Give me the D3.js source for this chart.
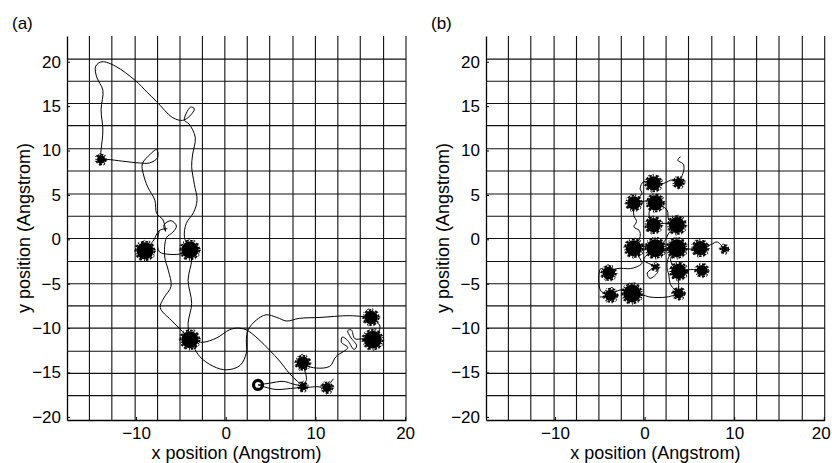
<!DOCTYPE html>
<html>
<head>
<meta charset="utf-8">
<script src="https://cdn.jsdelivr.net/npm/d3@7"></script>
<style>
  body { margin: 0; background: #fff; }
  svg { display: block; font-family: "Liberation Sans", Arial, Helvetica, sans-serif; }
  .tick text { font-size: 17px; fill: #000; }
  .lbl { font-size: 18px; fill: #000; }
</style>
</head>
<body>
<svg id="chart" width="832" height="463"></svg>
<script>
////////////////////////////////////////////////////////////////////////////////////
// Data (Angstrom)
var xTicks = [-10, 0, 10, 20];
var yTicks = [-20, -15, -10, -5, 0, 5, 10, 15, 20];
// lattice lines
var gridX = [-15.2, -12.7, -10.1, -7.6, -5.1, -2.6, -0.1, 2.4, 4.9, 7.5, 10.0, 12.5, 15.0, 17.6, 20.1];
var gridY = [20.3, 17.8, 15.3, 12.8, 10.2, 7.7, 5.1, 2.6, 0.1, -2.5, -5.0, -7.5, -10.0, -12.6, -15.1, -17.6];

// (a) trapping sites: x, y, radius of the dense scribble
var sitesA = [
  [-13.9, 9.0, 0.45], [-9.0, -1.3, 0.95], [-4.0, -1.2, 0.95], [-4.0, -11.3, 0.95],
  [8.6, -13.9, 0.7], [16.2, -8.8, 0.75], [16.4, -11.3, 1.0], [8.6, -16.6, 0.4], [11.3, -16.7, 0.5]
];
var ringsA = [[3.6, -16.4, 0.5]];
// (a) trajectory pieces
var trajA = [
  [[-14.0,9.0],[-13.9,10.1],[-13.7,12.3],[-13.9,14.6],[-13.7,16.8],[-14.4,18.3],[-14.5,19.5],[-13.8,20.0],[-12.3,19.5],[-10.1,17.9],[-8.8,16.6],[-7.7,15.5],[-5.9,13.7],[-4.8,13.4],[-4.0,13.9],[-3.5,14.7],[-3.9,14.9],[-4.4,14.2],[-4.6,13.4],[-4.1,13.0],[-3.4,11.5],[-3.7,9.5],[-3.8,8.2],[-3.5,6.2],[-3.2,4.4],[-3.6,3.0],[-4.4,1.8],[-4.6,0.2],[-4.0,-1.1]],
  [[-4.0,-1.1],[-3.8,-2.3],[-4.2,-4.6],[-3.8,-7.2],[-4.2,-9.5],[-4.0,-11.3]],
  [[-4.0,-11.3],[-5.0,-10.2],[-6.1,-9.1],[-7.3,-7.7],[-6.9,-6.6],[-6.1,-5.3],[-6.4,-3.5],[-6.8,-2.0],[-6.6,0.2],[-5.9,0.8],[-5.5,1.5],[-6.1,2.1],[-6.9,1.6],[-6.7,0.9],[-7.0,2.2],[-7.7,2.9],[-7.9,4.4],[-8.7,5.9],[-9.2,7.4],[-9.3,8.5],[-8.4,9.6],[-7.7,10.1],[-7.6,9.2],[-8.5,8.6],[-9.6,8.6],[-11.5,8.8],[-13.2,9.0],[-14.0,9.0]],
  [[-6.5,1.2],[-7.4,1.0],[-8.1,-0.2],[-9.0,-1.2]],
  [[-7.4,1.0],[-7.6,-0.2],[-7.4,-1.4],[-6.2,-1.7],[-4.9,-1.6],[-4.0,-1.1]],
  [[-4.0,-11.3],[-2.6,-11.6],[-1.0,-11.1],[0.4,-10.2],[1.3,-10.0],[2.3,-10.2],[3.6,-11.2],[4.9,-12.5],[6.0,-13.7],[7.1,-15.1],[8.0,-16.0],[8.6,-16.6]],
  [[-4.0,-11.3],[-2.9,-13.2],[-1.4,-14.3],[0.1,-14.7],[1.6,-14.2],[2.3,-12.8],[2.3,-11.3],[2.5,-10.2],[3.4,-9.1],[4.5,-8.5],[5.7,-8.8],[6.8,-9.2],[8.2,-8.9],[10.5,-8.8],[13.8,-8.6],[16.2,-8.8]],
  [[16.2,-8.8],[17.2,-9.8],[16.4,-11.3],[15.3,-11.2],[14.4,-11.2],[14.0,-10.2],[13.6,-10.3],[13.9,-11.0],[14.6,-12.0],[14.3,-12.4],[13.6,-11.4],[13.0,-11.0],[12.9,-11.6],[13.6,-12.2],[12.3,-13.2],[11.6,-14.3],[10.1,-14.5],[9.0,-14.2],[8.6,-13.8]],
  [[8.6,-13.8],[8.8,-14.7],[9.0,-15.8],[8.6,-16.6],[10.1,-16.6],[11.2,-16.6],[12.0,-15.7]],
  [[3.6,-16.4],[4.9,-16.2],[6.4,-16.0],[7.5,-16.3],[8.6,-16.6],[7.2,-16.8],[5.5,-16.9],[3.6,-16.4]]
];

// (b) trapping sites
var sitesB = [
  [1.0, 6.3, 0.8], [3.8, 6.4, 0.5], [-1.2, 4.1, 0.75], [1.2, 4.1, 0.85], [1.0, 1.6, 0.8],
  [3.6, 1.6, 0.9], [-1.2, -1.0, 0.9], [1.2, -1.0, 1.0], [3.6, -1.0, 1.0], [6.2, -1.0, 0.8],
  [8.9, -1.1, 0.35], [3.8, -3.6, 0.85], [6.4, -3.5, 0.6], [-4.0, -3.8, 0.7], [-3.8, -6.3, 0.65],
  [-1.4, -6.1, 1.0], [3.8, -6.1, 0.55], [1.2, -3.1, 0.3]
];
var ringsB = [];
// (b) trajectory pieces
var trajB = [
  [[4.0,9.3],[3.7,8.9],[4.3,8.5],[4.4,8.0],[4.2,7.2],[3.8,6.4],[3.1,6.7],[2.1,6.3],[1.0,6.3],[-0.1,6.5],[-0.5,5.7],[-0.3,5.2],[-1.2,4.1]],
  [[-1.2,4.1],[0.0,4.3],[1.2,4.1],[2.5,3.3],[2.7,2.2],[3.6,1.6]],
  [[1.2,4.1],[0.5,3.0],[1.0,1.6],[2.2,1.8],[3.6,1.6]],
  [[-1.2,4.1],[-1.2,2.7],[-0.9,2.0],[-1.2,1.4],[-0.6,1.0],[-0.5,0.3],[-1.2,-1.0]],
  [[-1.2,-1.0],[0.0,-0.8],[1.2,-1.0],[2.3,-0.1],[2.7,0.7],[3.6,1.6]],
  [[1.2,-1.0],[2.4,-1.3],[3.6,-1.0],[4.9,-1.1],[6.2,-1.0],[7.4,-0.6],[8.1,-0.3],[8.9,-1.1]],
  [[3.6,-1.0],[2.9,-2.3],[3.8,-3.6],[5.1,-3.4],[6.4,-3.5]],
  [[-1.2,-1.0],[-0.5,-2.2],[-0.3,-2.7],[-0.9,-3.1],[-1.6,-3.3],[-3.1,-3.3],[-4.0,-3.8]],
  [[-4.0,-3.8],[-4.9,-3.3],[-4.9,-5.8],[-3.8,-6.3],[-5.0,-6.5]],
  [[-3.8,-6.3],[-2.7,-5.7],[-1.4,-6.1],[-0.1,-6.3],[0.6,-6.5],[2.5,-6.5],[3.8,-6.1]],
  [[3.8,-6.1],[2.9,-5.1],[2.7,-4.0],[2.5,-3.1],[2.7,-2.0],[3.6,-1.0]],
  [[1.2,-3.1],[0.3,-3.8],[0.6,-4.4],[1.5,-3.6],[1.2,-3.1],[-0.1,-2.3],[1.2,-1.0]],
  [[3.8,-3.6],[3.8,-4.8],[3.8,-6.1]]
];

////////////////////////////////////////////////////////////////////////////////////
var svg = d3.select("#chart");
var xDomain = [-17.7, 20.1];
var yDomain = [-20.35, 22.9];
var top_ = 36, bottom_ = 420;

function drawPanel(left, right, label, sites, rings, traj) {
  var x = d3.scaleLinear().domain(xDomain).range([left, right]);
  var y = d3.scaleLinear().domain(yDomain).range([bottom_, top_]);
  var k = x(1) - x(0); // px per Angstrom
  var g = svg.append("g");

  // lattice grid
  g.selectAll(".gx").data(gridX).enter().append("line")
   .attr("x1", function(d) { return x(d); }).attr("x2", function(d) { return x(d); })
   .attr("y1", top_).attr("y2", bottom_)
   .attr("stroke", "#111").attr("stroke-width", 1.1);
  g.selectAll(".gy").data(gridY).enter().append("line")
   .attr("x1", left).attr("x2", right)
   .attr("y1", function(d) { return y(d); }).attr("y2", function(d) { return y(d); })
   .attr("stroke", "#111").attr("stroke-width", 1.1);

  // trajectory
  var line = d3.line()
               .x(function(d) { return x(d[0]); })
               .y(function(d) { return y(d[1]); })
               .curve(d3.curveCatmullRom.alpha(0.5));
  g.selectAll(".traj").data(traj).enter().append("path")
   .attr("d", line)
   .attr("fill", "none")
   .attr("stroke", "#000")
   .attr("stroke-width", 1);

  // dense scribbles at trapping sites
  var cx = function(d) { return x(d[0]); }, cy = function(d) { return y(d[1]); };
  g.selectAll(".site").data(sites).enter().append("circle")
   .attr("cx", cx).attr("cy", cy)
   .attr("r", function(d) { return d[2] * k; })
   .attr("fill", "#000");
  g.selectAll(".fuzz1").data(sites).enter().append("circle")
   .attr("cx", cx).attr("cy", cy)
   .attr("r", function(d) { return d[2] * k + 0.8; })
   .attr("fill", "none").attr("stroke", "#000").attr("stroke-width", 1.8)
   .attr("stroke-dasharray", "2.5,1,1,2,3,1.5");
  g.selectAll(".fuzz2").data(sites).enter().append("circle")
   .attr("cx", cx).attr("cy", cy)
   .attr("r", function(d) { return d[2] * k + 2; })
   .attr("fill", "none").attr("stroke", "#000").attr("stroke-width", 0.9)
   .attr("stroke-dasharray", "1,4,2,3,1,5");
  g.selectAll(".ring").data(rings).enter().append("circle")
   .attr("cx", cx).attr("cy", cy)
   .attr("r", function(d) { return d[2] * k; })
   .attr("fill", "none")
   .attr("stroke", "#000")
   .attr("stroke-width", 3.2);

  // axes
  var xAxis = d3.axisBottom(x).tickValues(xTicks).tickSize(-3).tickSizeOuter(0).tickPadding(8);
  var yAxis = d3.axisLeft(y).tickValues(yTicks).tickSize(-3).tickSizeOuter(0).tickPadding(6);
  var gx = g.append("g").attr("transform", "translate(0," + bottom_ + ")").call(xAxis);
  var gy = g.append("g").attr("transform", "translate(" + left + ",0)").call(yAxis);
  [gx, gy].forEach(function(a) {
    a.select(".domain").attr("stroke", "#000").attr("stroke-width", 1.3);
    a.selectAll(".tick line").attr("stroke", "#000");
    a.selectAll(".tick text").attr("font-family", null).attr("font-size", null);
  });
  gx.selectAll(".tick text").attr("dy", "0.62em");
  // keep the last x label inside the page, as in the original
  gx.selectAll(".tick text").filter(function(d) { return x(d) + 10 > 832; }).attr("dx", -3);

  // labels
  g.append("text").attr("class", "lbl")
   .attr("x", (left + right) / 2).attr("y", 459)
   .attr("text-anchor", "middle")
   .text("x position (Angstrom)");
  g.append("text").attr("class", "lbl")
   .attr("transform", "translate(" + (left - 37) + "," + ((top_ + bottom_) / 2) + ") rotate(-90)")
   .attr("text-anchor", "middle")
   .text("y position (Angstrom)");
  g.append("text").attr("class", "lbl")
   .attr("x", left - 55).attr("y", 29)
   .style("font-size", "17px")
   .text(label);
}

drawPanel(67, 406, "(a)", sitesA, ringsA, trajA);
drawPanel(486, 824.7, "(b)", sitesB, ringsB, trajB);
</script>
</body>
</html>
